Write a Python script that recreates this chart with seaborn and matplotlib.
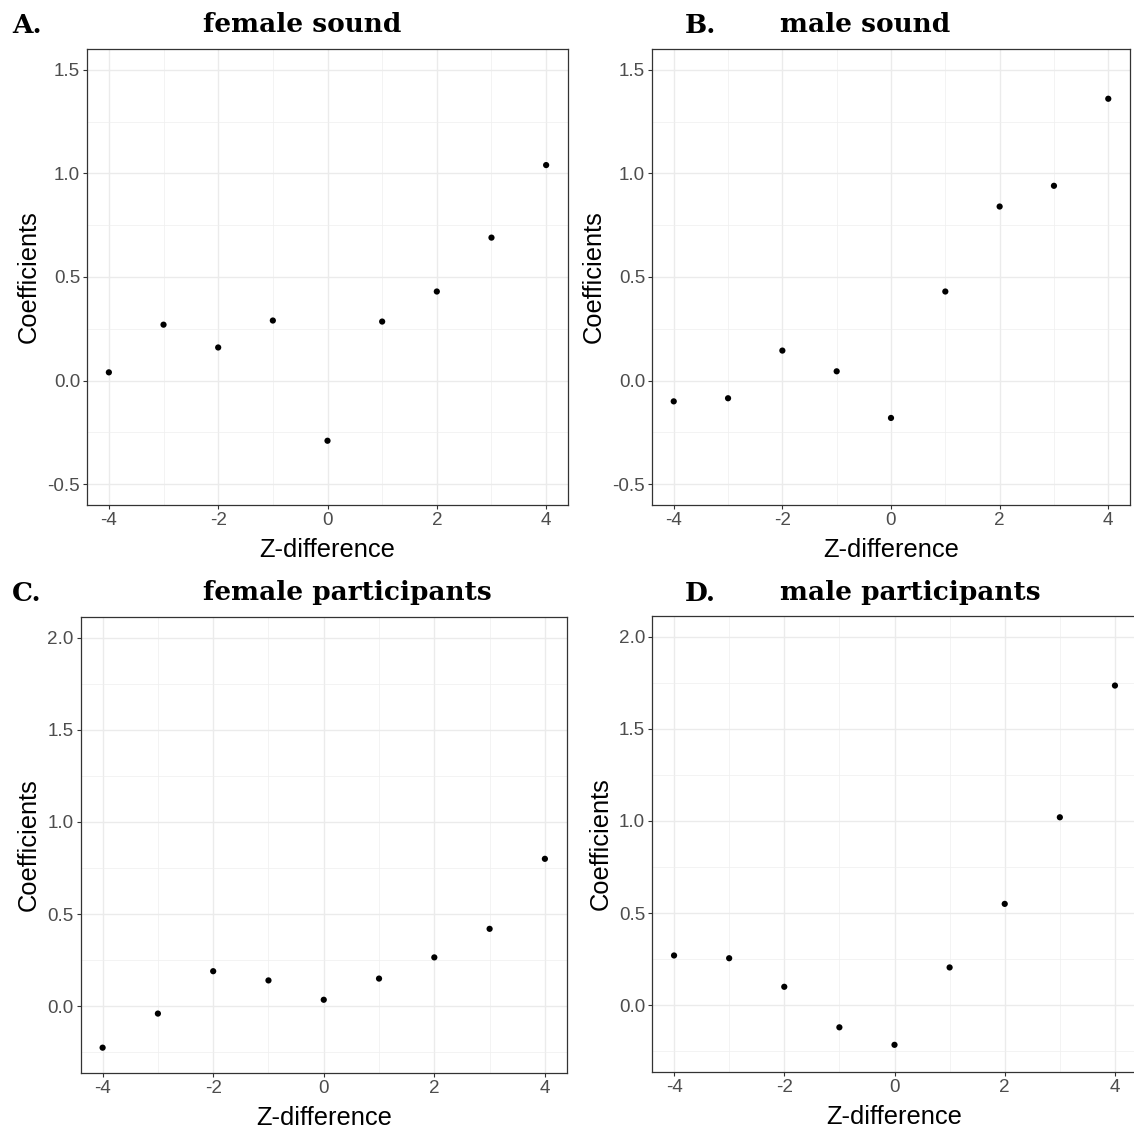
import numpy as np
import pandas as pd
import matplotlib
matplotlib.use("Agg")
import matplotlib.pyplot as plt
from matplotlib.ticker import FixedLocator
import seaborn as sns

# ---- data ----
zdiff = [-4, -3, -2, -1, 0, 1, 2, 3, 4]
female_sound = [0.04, 0.27, 0.16, 0.29, -0.29, 0.285, 0.43, 0.69, 1.04]
male_sound = [-0.10, -0.085, 0.145, 0.045, -0.18, 0.43, 0.84, 0.94, 1.36]
female_participants = [-0.225, -0.04, 0.19, 0.14, 0.035, 0.15, 0.265, 0.42, 0.80]
male_participants = [0.27, 0.255, 0.10, -0.12, -0.215, 0.205, 0.55, 1.02, 1.735]

letters = ["A.", "B.", "C.", "D."]
titles = ["female sound", "male sound", "female participants", "male participants"]
series = [female_sound, male_sound, female_participants, male_participants]
x_label = "Z-difference"
y_label = "Coefficients"

sns.set_theme(style="white")
plt.rcParams['font.family'] = ['Liberation Sans', 'DejaVu Sans']

W, H = 1134, 1130
fig = plt.figure(figsize=(W / 100, H / 100), dpi=100)

# axes boxes in pixels: left, top, right, bottom
boxes = [
    (87, 49, 568, 505),
    (652, 49, 1130, 505),
    (80.5, 617, 567, 1073),
    (652, 616, 1137, 1072),
]
ylims = [(-0.6, 1.6), (-0.6, 1.6), (-0.3625, 2.1125), (-0.3625, 2.1125)]
ymajor = [np.arange(-0.5, 1.51, 0.5), np.arange(-0.5, 1.51, 0.5),
          np.arange(0.0, 2.01, 0.5), np.arange(0.0, 2.01, 0.5)]
yminor = [[-0.25, 0.25, 0.75, 1.25], [-0.25, 0.25, 0.75, 1.25],
          [-0.25, 0.25, 0.75, 1.25, 1.75], [-0.25, 0.25, 0.75, 1.25, 1.75]]

letter_pos = [(12, 33), (685, 33), (12, 601), (685, 601)]
title_pos = [(203, 32), (780, 32), (203, 600), (780, 600)]

for i in range(4):
    l, t, r, b = boxes[i]
    ax = fig.add_axes([l / W, 1 - b / H, (r - l) / W, (b - t) / H])
    df = pd.DataFrame({"z": zdiff, "coef": series[i]})
    sns.scatterplot(data=df, x="z", y="coef", ax=ax, color="black",
                    s=20, edgecolor="none", zorder=3)
    ax.set_xlim(-4.4, 4.4)
    ax.set_ylim(*ylims[i])
    ax.xaxis.set_major_locator(FixedLocator([-4, -2, 0, 2, 4]))
    ax.xaxis.set_minor_locator(FixedLocator([-3, -1, 1, 3]))
    ax.yaxis.set_major_locator(FixedLocator(ymajor[i]))
    ax.yaxis.set_minor_locator(FixedLocator(yminor[i]))
    ax.set_xticklabels(["-4", "-2", "0", "2", "4"])
    ax.set_yticklabels([f"{v:.1f}" for v in ymajor[i]])
    ax.grid(which="major", color="#EBEBEB", linewidth=1.0, zorder=0)
    ax.grid(which="minor", color="#EFEFEF", linewidth=0.5, zorder=0)
    ax.set_axisbelow(True)
    for sp in ax.spines.values():
        sp.set_color("#333333")
        sp.set_linewidth(0.9)
        sp.set_visible(True)
    ax.tick_params(which="major", direction="out", length=2.8, width=0.8,
                   color="#333333", labelcolor="#4D4D4D", labelsize=13.6, pad=2.2,
                   bottom=True, left=True)
    ax.tick_params(which="minor", length=0)
    ax.set_xlabel(x_label, fontsize=18.4, color="black", labelpad=6.5)
    ax.set_ylabel(y_label, fontsize=18.4, color="black", labelpad=4.5)

    lx, ly = letter_pos[i]
    fig.text(lx / W, 1 - ly / H, letters[i], family="DejaVu Serif", weight="bold",
             fontsize=19, ha="left", va="baseline", color="black")
    tx, ty = title_pos[i]
    fig.text(tx / W, 1 - ty / H, titles[i], family="DejaVu Serif", weight="bold",
             fontsize=19, ha="left", va="baseline", color="black")

fig.savefig("out.png", dpi=100, facecolor="white")
